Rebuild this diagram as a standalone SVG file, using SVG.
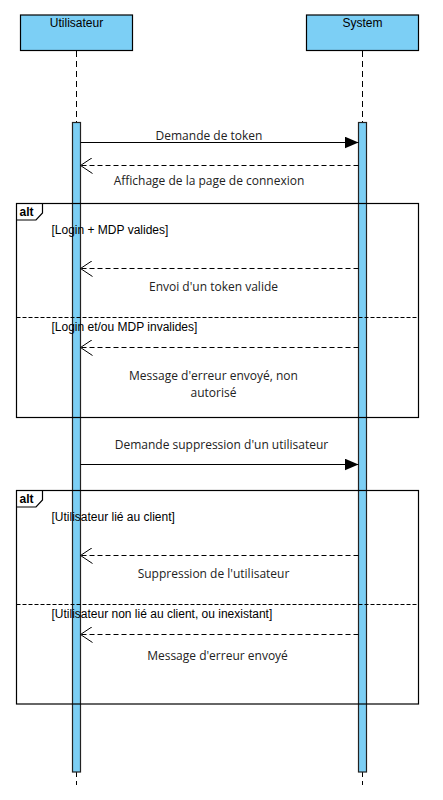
<svg xmlns="http://www.w3.org/2000/svg" width="443" height="800" viewBox="0 0 443 800">
<defs>
<style>
.head{fill:#7ccff5;stroke:#000;stroke-width:1.2}
.bar{fill:#7ccff5;stroke:#222;stroke-width:1.2}
.life{stroke:#000;stroke-width:1;stroke-dasharray:6,4;fill:none}
.msg{stroke:#000;stroke-width:1;fill:none}
.ret{stroke:#000;stroke-width:1;fill:none;stroke-dasharray:5,3}
.frame{fill:none;stroke:#000;stroke-width:1.2}
.sep{stroke:#000;stroke-width:1;stroke-dasharray:4,2;fill:none}
.hl{font-family:"Liberation Sans",Arial,sans-serif;font-size:12px;fill:#000;text-anchor:middle}
.lbl{font-family:"Open Sans","DejaVu Sans",sans-serif;font-size:12px;fill:#222;text-anchor:middle}
.grd{font-family:"Liberation Sans",Arial,sans-serif;font-size:12px;fill:#000}
.alt{font-family:"Liberation Sans",Arial,sans-serif;font-size:12px;font-weight:bold;fill:#000}
</style>
<marker id="filled" viewBox="0 0 14 12" refX="14" refY="6" markerWidth="14" markerHeight="12" markerUnits="userSpaceOnUse" orient="auto">
<path d="M0,0 L14,6 L0,12 Z" fill="#000"/>
</marker>
<marker id="open" viewBox="0 0 14 16" refX="13" refY="8" markerWidth="14" markerHeight="16" markerUnits="userSpaceOnUse" orient="auto">
<path d="M1,0 L13,8 L1,16" fill="none" stroke="#000" stroke-width="1"/>
</marker>
</defs>
<rect width="443" height="800" fill="#fff"/>
<g id="lifelines">
<line class="life" x1="76.5" y1="51" x2="76.5" y2="785"/>
<line class="life" x1="362.5" y1="51" x2="362.5" y2="785"/>
</g>
<g id="utilisateur">
<rect class="head" x="20.5" y="15" width="112" height="35.5"/>
<text class="hl" x="76.5" y="26.5">Utilisateur</text>
</g>
<g id="system">
<rect class="head" x="306.5" y="15" width="112" height="35.5"/>
<text class="hl" x="362.5" y="26.5">System</text>
</g>
<g id="activation-utilisateur">
<rect class="bar" x="72.5" y="122.5" width="8" height="649.5"/>
</g>
<g id="activation-system">
<rect class="bar" x="358.5" y="122.5" width="8" height="649.5"/>
</g>
<g id="alt1">
<rect class="frame" x="16.5" y="203.5" width="402" height="214"/>
<path class="frame" d="M16.5,220 L36,220 L42.5,213 L42.5,203.5"/>
<text class="alt" x="19.5" y="216">alt</text>
<text class="grd" x="51.5" y="233.5">[Login + MDP valides]</text>
<line class="sep" x1="16.5" y1="317.5" x2="418.5" y2="317.5"/>
<text class="grd" x="51.5" y="330.5">[Login et/ou MDP invalides]</text>
</g>
<g id="alt2">
<rect class="frame" x="16.5" y="490.5" width="402" height="213.5"/>
<path class="frame" d="M16.5,507 L36,507 L42.5,500 L42.5,490.5"/>
<text class="alt" x="19.5" y="503">alt</text>
<text class="grd" x="51.5" y="520.5">[Utilisateur lié au client]</text>
<line class="sep" x1="16.5" y1="604.5" x2="418.5" y2="604.5"/>
<text class="grd" x="51.5" y="618">[Utilisateur non lié au client, ou inexistant]</text>
</g>
<g id="connectors">
<line class="msg" x1="80.5" y1="142.5" x2="358.5" y2="142.5" marker-end="url(#filled)"/>
<text class="lbl" x="209" y="139.5">Demande de token</text>
<line class="ret" x1="358.5" y1="165.5" x2="80.5" y2="165.5" marker-end="url(#open)"/>
<text class="lbl" x="209" y="184.5">Affichage de la page de connexion</text>
<line class="ret" x1="358.5" y1="268.5" x2="80.5" y2="268.5" marker-end="url(#open)"/>
<text class="lbl" x="213.5" y="290.5">Envoi d'un token valide</text>
<line class="ret" x1="358.5" y1="347.5" x2="80.5" y2="347.5" marker-end="url(#open)"/>
<text class="lbl" x="213.5" y="379.5">Message d'erreur envoyé, non</text>
<text class="lbl" x="213.5" y="396.5">autorisé</text>
<line class="msg" x1="80.5" y1="464.5" x2="358.5" y2="464.5" marker-end="url(#filled)"/>
<text class="lbl" x="221.5" y="449">Demande suppression d'un utilisateur</text>
<line class="ret" x1="358.5" y1="555.5" x2="80.5" y2="555.5" marker-end="url(#open)"/>
<text class="lbl" x="213.5" y="578">Suppression de l'utilisateur</text>
<line class="ret" x1="358.5" y1="634.5" x2="80.5" y2="634.5" marker-end="url(#open)"/>
<text class="lbl" x="217.5" y="660">Message d'erreur envoyé</text>
</g>
</svg>
